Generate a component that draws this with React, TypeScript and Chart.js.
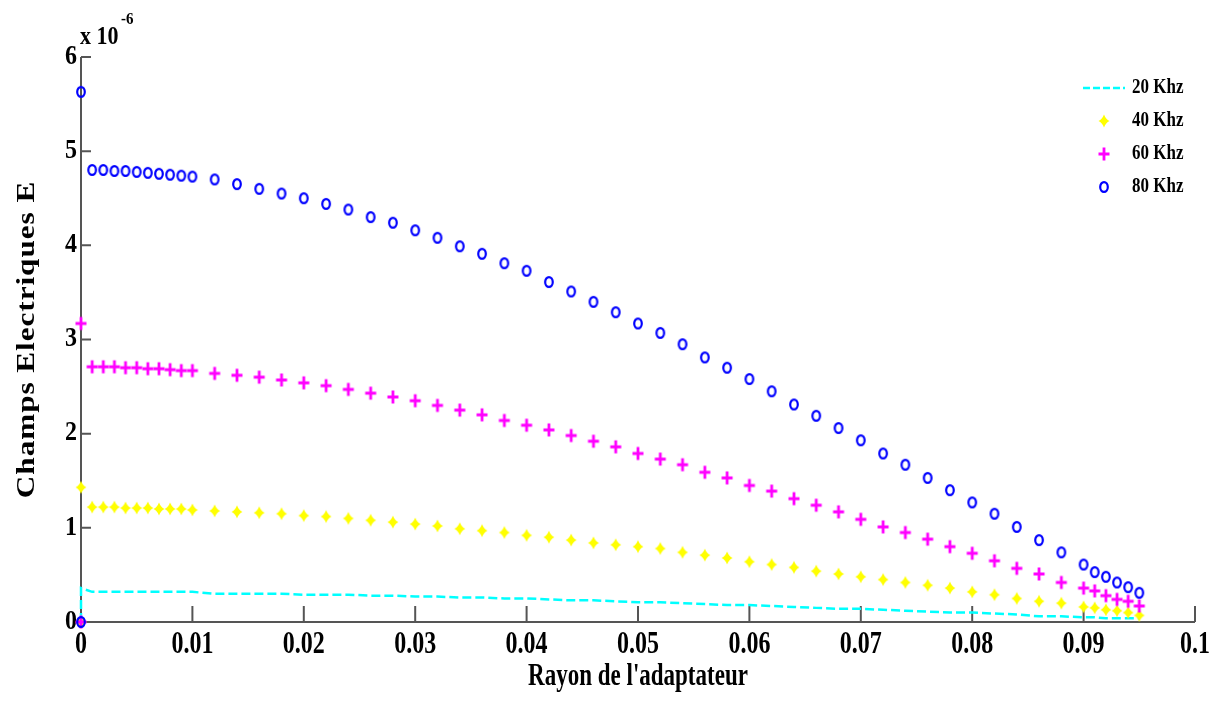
import React, { useEffect, useRef } from 'react';
import { Chart, registerables } from 'chart.js';

Chart.register(...registerables);

// Rayon de l'adaptateur (m)
const radius = [
  0, 0,
  0.001, 0.002, 0.003, 0.004, 0.005, 0.006, 0.007, 0.008, 0.009, 0.01,
  0.012, 0.014, 0.016, 0.018, 0.02, 0.022, 0.024, 0.026, 0.028, 0.03,
  0.032, 0.034, 0.036, 0.038, 0.04, 0.042, 0.044, 0.046, 0.048, 0.05,
  0.052, 0.054, 0.056, 0.058, 0.06, 0.062, 0.064, 0.066, 0.068, 0.07,
  0.072, 0.074, 0.076, 0.078, 0.08, 0.082, 0.084, 0.086, 0.088,
  0.09, 0.091, 0.092, 0.093, 0.094, 0.095,
];

// Champs electriques E (x 1e-6)
const e20 = [
  0, 0.36,
  0.32, 0.32, 0.32, 0.32, 0.32, 0.32, 0.32, 0.32, 0.32, 0.32,
  0.30, 0.30, 0.30, 0.30, 0.29, 0.29, 0.29, 0.28, 0.28, 0.27,
  0.27, 0.26, 0.26, 0.25, 0.25, 0.24, 0.23, 0.23, 0.22, 0.21,
  0.21, 0.20, 0.19, 0.18, 0.18, 0.17, 0.16, 0.15, 0.14, 0.14,
  0.13, 0.12, 0.11, 0.10, 0.10, 0.09, 0.08, 0.06, 0.06,
  0.05, 0.05, 0.04, 0.04, 0.04, 0.04,
];
const e40 = [
  0, 1.43,
  1.22, 1.22, 1.22, 1.21, 1.21, 1.21, 1.20, 1.20, 1.20, 1.19,
  1.18, 1.17, 1.16, 1.15, 1.13, 1.12, 1.10, 1.08, 1.06, 1.04,
  1.02, 0.99, 0.97, 0.95, 0.92, 0.90, 0.87, 0.84, 0.82, 0.80,
  0.78, 0.74, 0.71, 0.68, 0.64, 0.61, 0.58, 0.54, 0.51, 0.48,
  0.45, 0.42, 0.39, 0.36, 0.32, 0.29, 0.25, 0.22, 0.20,
  0.16, 0.15, 0.13, 0.12, 0.10, 0.07,
];
const e60 = [
  0, 3.17,
  2.71, 2.71, 2.71, 2.70, 2.70, 2.69, 2.69, 2.68, 2.67, 2.67,
  2.64, 2.62, 2.60, 2.57, 2.54, 2.51, 2.47, 2.43, 2.39, 2.35,
  2.30, 2.25, 2.20, 2.14, 2.09, 2.04, 1.98, 1.92, 1.86, 1.79,
  1.73, 1.67, 1.59, 1.53, 1.45, 1.39, 1.31, 1.24, 1.17, 1.09,
  1.01, 0.95, 0.88, 0.80, 0.73, 0.65, 0.57, 0.51, 0.42,
  0.36, 0.33, 0.28, 0.24, 0.22, 0.17,
];
const e80 = [
  0, 5.63,
  4.80, 4.80, 4.79, 4.79, 4.78, 4.77, 4.76, 4.75, 4.74, 4.73,
  4.70, 4.65, 4.60, 4.55, 4.50, 4.44, 4.38, 4.30, 4.24, 4.16,
  4.08, 3.99, 3.91, 3.81, 3.73, 3.61, 3.51, 3.40, 3.29, 3.17,
  3.07, 2.95, 2.81, 2.70, 2.58, 2.45, 2.31, 2.19, 2.06, 1.93,
  1.79, 1.67, 1.53, 1.40, 1.27, 1.15, 1.01, 0.87, 0.74,
  0.61, 0.53, 0.48, 0.42, 0.37, 0.31,
];

const seriesLabels = ['20 Khz', '40 Khz', '60 Khz', '80 Khz'];
const xTickValues = [0, 0.01, 0.02, 0.03, 0.04, 0.05, 0.06, 0.07, 0.08, 0.09, 0.1];
const xTickLabels = ['0', '0.01', '0.02', '0.03', '0.04', '0.05', '0.06', '0.07', '0.08', '0.09', '0.1'];
const yTickValues = [0, 1, 2, 3, 4, 5, 6];
const yTickLabels = ['0', '1', '2', '3', '4', '5', '6'];
const xTitle = "Rayon de l'adaptateur";
const yTitle = 'Champs Electriques E';
const exponentBase = 'x 10';
const exponentPower = '-6';

const SERIF = "'Liberation Serif', 'Times New Roman', serif";
const CYAN = '#00ffff';
const YELLOW = '#ffff00';
const MAGENTA = '#ff00ff';
const BLUE = '#0000ff';

function makeMarker(kind: string, color: string): HTMLCanvasElement {
  const c = document.createElement('canvas');
  c.width = 16;
  c.height = 18;
  const g = c.getContext('2d')!;
  const cx = 8;
  const cy = 9;
  if (kind === 'star') {
    g.fillStyle = color;
    g.beginPath();
    g.moveTo(cx, cy - 6.5);
    g.quadraticCurveTo(cx + 1.8, cy - 1.8, cx + 5.5, cy);
    g.quadraticCurveTo(cx + 1.8, cy + 1.8, cx, cy + 6.5);
    g.quadraticCurveTo(cx - 1.8, cy + 1.8, cx - 5.5, cy);
    g.quadraticCurveTo(cx - 1.8, cy - 1.8, cx, cy - 6.5);
    g.closePath();
    g.fill();
  } else if (kind === 'plus') {
    g.strokeStyle = color;
    g.lineWidth = 2.8;
    g.beginPath();
    g.moveTo(cx - 5.5, cy);
    g.lineTo(cx + 5.5, cy);
    g.moveTo(cx, cy - 6.5);
    g.lineTo(cx, cy + 6.5);
    g.stroke();
  } else {
    g.strokeStyle = color;
    g.lineWidth = 2.2;
    g.beginPath();
    g.ellipse(cx, cy, 3.8, 4.9, 0, 0, Math.PI * 2);
    g.stroke();
  }
  return c;
}

function drawText(
  ctx: CanvasRenderingContext2D,
  text: string,
  x: number,
  y: number,
  font: string,
  align: CanvasTextAlign,
  sx: number,
  sy: number,
  rot = 0,
  spacing = '0px'
) {
  ctx.save();
  ctx.translate(x, y);
  if (rot) ctx.rotate(rot);
  ctx.scale(sx, sy);
  ctx.font = font;
  (ctx as any).letterSpacing = spacing;
  ctx.textAlign = align;
  ctx.textBaseline = 'middle';
  ctx.fillStyle = '#000';
  ctx.fillText(text, 0, 0);
  ctx.restore();
}

export default function App() {
  const canvasRef = useRef<HTMLCanvasElement | null>(null);

  useEffect(() => {
    if (!canvasRef.current) return;
    const star = makeMarker('star', YELLOW);
    const plus = makeMarker('plus', MAGENTA);
    const ring = makeMarker('ring', BLUE);

    const axesPlugin = {
      id: 'matlabAxes',
      beforeDatasetsDraw(chart: any) {
        const { ctx, chartArea: a, scales } = chart;
        const x = scales.x;
        const y = scales.y;
        ctx.save();
        ctx.strokeStyle = '#555555';
        ctx.lineWidth = 2;
        ctx.beginPath();
        ctx.moveTo(a.left, a.top);
        ctx.lineTo(a.left, a.bottom);
        ctx.lineTo(a.right, a.bottom);
        xTickValues.forEach((v) => {
          const px = x.getPixelForValue(v);
          ctx.moveTo(px, a.bottom);
          ctx.lineTo(px, a.bottom - 16);
        });
        yTickValues.forEach((v) => {
          const py = y.getPixelForValue(v);
          ctx.moveTo(a.left, py);
          ctx.lineTo(a.left + 10, py);
        });
        ctx.stroke();
        ctx.restore();

        const tickFont = `bold 24px ${SERIF}`;
        xTickValues.forEach((v, i) => {
          drawText(ctx, xTickLabels[i], x.getPixelForValue(v), a.bottom + 23, tickFont, 'center', 1, 1.3);
        });
        yTickValues.forEach((v, i) => {
          drawText(ctx, yTickLabels[i], a.left - 4, y.getPixelForValue(v), tickFont, 'right', 1, 1.1);
        });
        drawText(ctx, xTitle, (a.left + a.right) / 2, a.bottom + 55, `bold 23px ${SERIF}`, 'center', 1, 1.35);
        drawText(ctx, yTitle, 27, (a.top + a.bottom) / 2, `bold 26px ${SERIF}`, 'center', 1.2, 1, -Math.PI / 2, '0.8px');
        drawText(ctx, exponentBase, a.left - 1, a.top - 20, `bold 22px ${SERIF}`, 'left', 1, 1.15);
        drawText(ctx, exponentPower, a.left + 40, a.top - 37, `bold 15px ${SERIF}`, 'left', 1, 1.15);
      },
      afterDraw(chart: any) {
        const { ctx } = chart;
        const rows = [88, 121, 154, 187];
        const sampleLeft = 1083;
        const sampleRight = 1125;
        const mid = (sampleLeft + sampleRight) / 2;
        ctx.save();
        ctx.strokeStyle = CYAN;
        ctx.lineWidth = 2.5;
        ctx.setLineDash([7, 3]);
        ctx.beginPath();
        ctx.moveTo(sampleLeft, rows[0]);
        ctx.lineTo(sampleRight, rows[0]);
        ctx.stroke();
        ctx.setLineDash([]);
        const markers = [null, star, plus, ring];
        markers.forEach((m, i) => {
          if (m) ctx.drawImage(m, mid - m.width / 2, rows[i] - m.height / 2);
        });
        ctx.restore();
        seriesLabels.forEach((t, i) => {
          drawText(ctx, t, 1132, rows[i], `bold 17px ${SERIF}`, 'left', 1, 1.2);
        });
      },
    };

    const pts = (vals: number[]) => radius.map((x, i) => ({ x, y: vals[i] }));

    const chart = new Chart(canvasRef.current, {
      type: 'scatter',
      data: {
        datasets: [
          {
            label: seriesLabels[0],
            data: pts(e20),
            showLine: true,
            borderColor: CYAN,
            backgroundColor: CYAN,
            borderWidth: 2.5,
            borderDash: [9, 4],
            pointRadius: 0,
            tension: 0,
            clip: false,
            order: 4,
          } as any,
          {
            label: seriesLabels[1],
            data: pts(e40),
            showLine: false,
            pointStyle: star,
            pointRadius: 6,
            clip: false,
            order: 3,
          } as any,
          {
            label: seriesLabels[2],
            data: pts(e60),
            showLine: false,
            pointStyle: plus,
            pointRadius: 6,
            clip: false,
            order: 2,
          } as any,
          {
            label: seriesLabels[3],
            data: pts(e80),
            showLine: false,
            pointStyle: ring,
            pointRadius: 6,
            clip: false,
            order: 1,
          } as any,
        ],
      },
      options: {
        animation: false,
        responsive: true,
        maintainAspectRatio: false,
        layout: { padding: { left: 81, right: 29, top: 57, bottom: 82 } },
        scales: {
          x: { type: 'linear', min: 0, max: 0.1, display: false },
          y: { type: 'linear', min: 0, max: 6, display: false },
        },
        plugins: {
          legend: { display: false },
          tooltip: { enabled: false },
        },
        events: [],
      },
      plugins: [axesPlugin],
    });

    return () => chart.destroy();
  }, []);

  return (
    <div style={{ position: 'absolute', left: 0, top: 0, width: 1224, height: 704, background: '#fff' }}>
      <canvas ref={canvasRef} />
    </div>
  );
}
